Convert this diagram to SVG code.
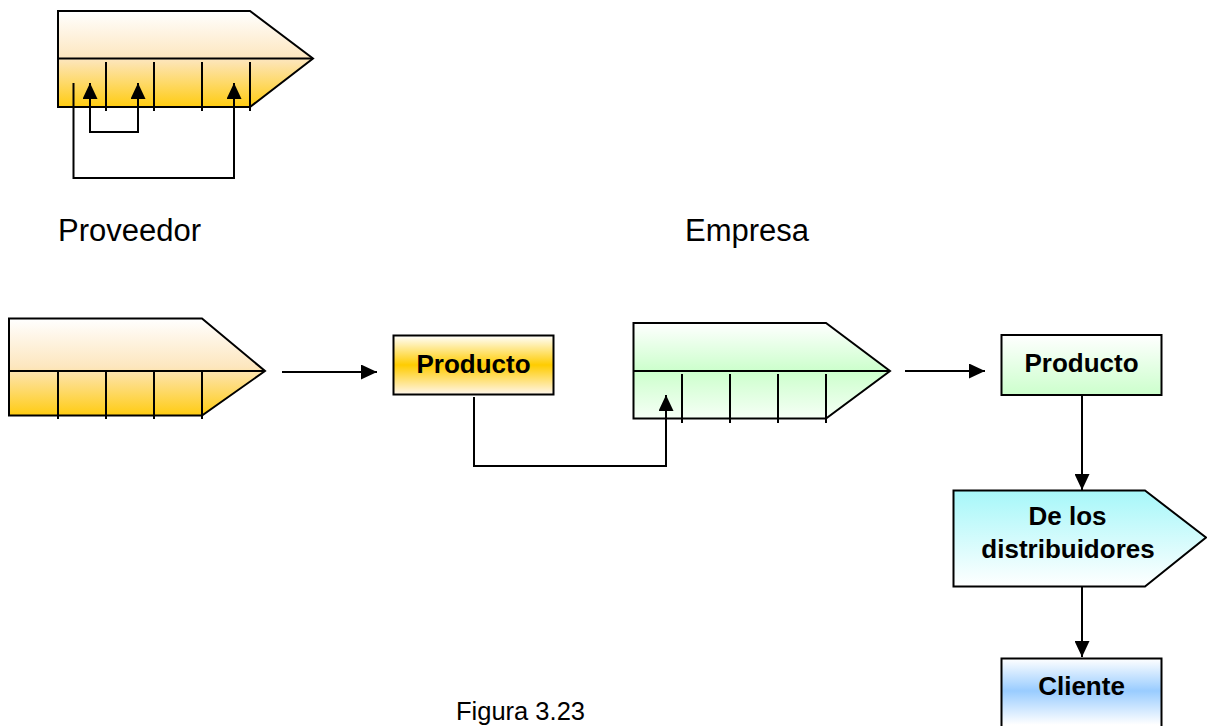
<svg xmlns="http://www.w3.org/2000/svg" width="1207" height="726" viewBox="0 0 1207 726">
  <style>
    .shape { stroke: #000; stroke-width: 2; stroke-linejoin: miter; }
    .line { fill: none; stroke: #000; stroke-width: 2; }
    .arrow { fill: none; stroke: #000; stroke-width: 2; marker-end: url(#head); }
    .label { font-family: "Liberation Sans", Arial, sans-serif; font-size: 31px; fill: #000; }
    .bold { font-family: "Liberation Sans", Arial, sans-serif; font-size: 26px; font-weight: bold; fill: #000; text-anchor: middle; }
    .caption { font-family: "Liberation Sans", Arial, sans-serif; font-size: 25.5px; fill: #000; }
  </style>
  <defs>
    <marker id="head" markerUnits="userSpaceOnUse" markerWidth="16" markerHeight="15" refX="16" refY="7.5" orient="auto-start-reverse">
      <path d="M0,0 L16,7.5 L0,15 Z" fill="#000"/>
    </marker>
    <linearGradient id="gold" x1="0" y1="0" x2="0" y2="1">
      <stop offset="0" stop-color="#FFFFFF"/>
      <stop offset="0.5" stop-color="#FDE6BE"/>
      <stop offset="1" stop-color="#FFCC11"/>
    </linearGradient>
    <linearGradient id="goldBand" x1="0" y1="0" x2="0" y2="1">
      <stop offset="0" stop-color="#FFFFFF"/>
      <stop offset="0.5" stop-color="#FFCC00"/>
      <stop offset="1" stop-color="#FFF6EC"/>
    </linearGradient>
    <linearGradient id="greenBand" x1="0" y1="0" x2="0" y2="1">
      <stop offset="0" stop-color="#FFFFFF"/>
      <stop offset="0.5" stop-color="#CCFFCC"/>
      <stop offset="1" stop-color="#F6FFF6"/>
    </linearGradient>
    <linearGradient id="greenDown" x1="0" y1="0" x2="0" y2="1">
      <stop offset="0" stop-color="#FFFFFF"/>
      <stop offset="1" stop-color="#CCFFCC"/>
    </linearGradient>
    <linearGradient id="cyanUp" x1="0" y1="0" x2="0" y2="1">
      <stop offset="0" stop-color="#A6F7F9"/>
      <stop offset="1" stop-color="#FFFFFF"/>
    </linearGradient>
    <linearGradient id="blueBand" x1="0" y1="0" x2="0" y2="1">
      <stop offset="0" stop-color="#FFFFFF"/>
      <stop offset="0.45" stop-color="#99CCFF"/>
      <stop offset="0.92" stop-color="#FFFFFF"/>
    </linearGradient>
  </defs>

  <!-- Supplier value chain (top) -->
  <g id="cadena-proveedor-arriba">
    <path class="shape" fill="url(#gold)" d="M58,11 H250 L313,58.5 L250,107 H58 Z"/>
    <path class="line" d="M58,58.5 H313"/>
    <path class="line" d="M106,62 V111 M154,62 V111 M202,62 V111 M250,62 V111"/>
  </g>

  <!-- Captions -->
  <g id="titulo-proveedor">
    <text class="label" x="58" y="241">Proveedor</text>
  </g>
  <g id="titulo-empresa">
    <text class="label" x="685" y="241">Empresa</text>
  </g>

  <!-- Supplier value chain (bottom) -->
  <g id="cadena-proveedor">
    <path class="shape" fill="url(#gold)" d="M9,318.5 H202 L265,371 L202,415.5 H9 Z"/>
    <path class="line" d="M9,371 H265"/>
    <path class="line" d="M58,371 V419 M106,371 V419 M154,371 V419 M202,371 V419"/>
  </g>

  <g id="producto-proveedor">
    <rect class="shape" fill="url(#goldBand)" x="393.5" y="335.5" width="160" height="59"/>
    <text class="bold" x="473.5" y="372.5">Producto</text>
  </g>

  <!-- Company value chain -->
  <g id="cadena-empresa">
    <path class="shape" fill="url(#greenBand)" d="M633.5,323 H826 L890,371 L826,418.5 H633.5 Z"/>
    <path class="line" d="M633.5,371 H890"/>
    <path class="line" d="M682,374 V423 M730,374 V423 M778,374 V423 M826,374 V423"/>
  </g>

  <g id="producto-empresa">
    <rect class="shape" fill="url(#greenDown)" x="1001.5" y="335" width="160" height="60"/>
    <text class="bold" x="1081.5" y="372">Producto</text>
  </g>

  <g id="distribuidores">
    <path class="shape" fill="url(#cyanUp)" d="M953.5,490.5 H1145 L1206,537.5 L1145,586.5 H953.5 Z"/>
    <text class="bold" x="1067.5" y="525">De los</text>
    <text class="bold" x="1068" y="557.5">distribuidores</text>
  </g>

  <g id="cliente">
    <rect class="shape" fill="url(#blueBand)" x="1001.5" y="658.5" width="160" height="72"/>
    <text class="bold" x="1081.5" y="694.5">Cliente</text>
  </g>

  <g id="pie">
    <text class="caption" x="456" y="720">Figura 3.23</text>
  </g>

  <!-- Connectors -->
  <g id="conectores">
    <path class="arrow" d="M73.5,83 V178 H234 V83"/>
    <path class="arrow" style="marker-start:url(#head)" d="M90,83 V132 H138 V83"/>
    <path class="arrow" d="M282,372 H377"/>
    <path class="arrow" d="M474,397 V466 H666 V395"/>
    <path class="arrow" d="M905,371 H985"/>
    <path class="arrow" d="M1082,395 V490"/>
    <path class="arrow" d="M1082,587 V657"/>
  </g>
</svg>
